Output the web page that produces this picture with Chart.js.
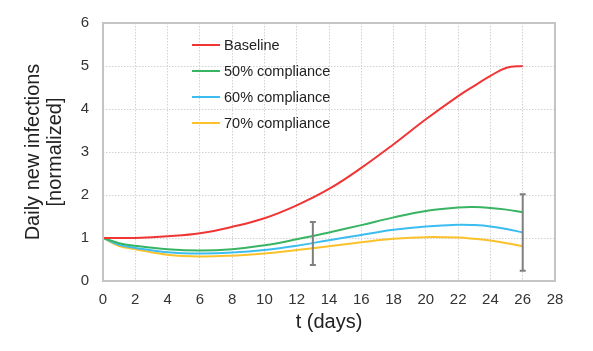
<!DOCTYPE html>
<html>
<head>
<meta charset="utf-8">
<script src="https://cdn.jsdelivr.net/npm/chart.js@4"></script>
<style>
  html, body { margin: 0; padding: 0; background: #fff; }
  #wrap { width: 593px; height: 351px; }
</style>
</head>
<body>
<div id="wrap"><canvas id="infChart" width="593" height="351"></canvas></div>
<script>
  // data
  const days = [0, 1, 2, 4, 6, 8, 10, 12, 14, 16, 18, 20, 22, 23, 24, 25, 26];
  const baseline = [1.0, 1.0, 1.0, 1.04, 1.11, 1.26, 1.46, 1.76, 2.14, 2.63, 3.18, 3.76, 4.3, 4.54, 4.77, 4.96, 5.0];
  const comp50 = [1.0, 0.88, 0.82, 0.74, 0.71, 0.74, 0.83, 0.97, 1.13, 1.30, 1.48, 1.63, 1.71, 1.72, 1.70, 1.66, 1.6];
  const comp60 = [1.0, 0.84, 0.77, 0.67, 0.64, 0.66, 0.72, 0.82, 0.95, 1.07, 1.19, 1.27, 1.31, 1.30, 1.27, 1.21, 1.13];
  const comp70 = [1.0, 0.81, 0.74, 0.61, 0.57, 0.59, 0.64, 0.72, 0.81, 0.90, 0.98, 1.02, 1.01, 0.98, 0.94, 0.88, 0.81];

  // error bars
  const errDays = [13, 26];
  const errLow = [0.37, 0.24];
  const errHigh = [1.37, 2.02];

  const font = '"Liberation Sans", Arial, sans-serif';
  const toPts = arr => days.map((d, i) => ({ x: d, y: arr[i] }));

  function series(label, arr, color) {
    return {
      label: label,
      data: toPts(arr),
      borderColor: color,
      backgroundColor: color,
      borderWidth: 2,
      pointRadius: 0,
      tension: 0.4,
      fill: false
    };
  }

  const extras = {
    id: 'extras',
    afterDatasetsDraw(chart) {
      const ctx = chart.ctx;
      const xs = chart.scales.x, ys = chart.scales.y;

      // error bars
      ctx.save();
      ctx.strokeStyle = '#7f7f7f';
      ctx.lineWidth = 2;
      errDays.forEach((d, i) => {
        const px = xs.getPixelForValue(d);
        const top = ys.getPixelForValue(errHigh[i]);
        const bot = ys.getPixelForValue(errLow[i]);
        ctx.beginPath();
        ctx.moveTo(px, top); ctx.lineTo(px, bot);
        ctx.moveTo(px - 3, top); ctx.lineTo(px + 3, top);
        ctx.moveTo(px - 3, bot); ctx.lineTo(px + 3, bot);
        ctx.stroke();
      });
      ctx.restore();

      // plot frame
      const a = chart.chartArea;
      ctx.save();
      ctx.strokeStyle = '#c4c4c4';
      ctx.lineWidth = 2;
      ctx.strokeRect(a.left, a.top, a.right - a.left, a.bottom - a.top);
      ctx.restore();

      // legend inside the plot
      ctx.save();
      ctx.font = '14.5px ' + font;
      ctx.textBaseline = 'middle';
      chart.data.datasets.forEach((ds, i) => {
        const y = 45 + i * 26;
        ctx.strokeStyle = ds.borderColor;
        ctx.lineWidth = 2;
        ctx.beginPath();
        ctx.moveTo(192, y); ctx.lineTo(220, y);
        ctx.stroke();
        ctx.fillStyle = '#222';
        ctx.fillText(ds.label, 224, y + 1);
      });
      ctx.restore();
    }
  };

  new Chart(document.getElementById('infChart'), {
    type: 'line',
    data: {
      datasets: [
        series('Baseline', baseline, '#f03535'),
        series('50% compliance', comp50, '#38b462'),
        series('60% compliance', comp60, '#3cbdf0'),
        series('70% compliance', comp70, '#fcc22c')
      ]
    },
    options: {
      responsive: false,
      animation: false,
      layout: { padding: { left: 0, top: 22, right: 38, bottom: 0 } },
      plugins: { legend: { display: false }, tooltip: { enabled: false } },
      scales: {
        x: {
          type: 'linear',
          min: 0, max: 28,
          afterFit: s => { s.height = 70; },
          ticks: { stepSize: 2, padding: 10, color: '#333', font: { family: font, size: 15 } },
          grid: { color: '#d2d2d2', lineWidth: 1, drawTicks: false },
          border: { display: false, dash: [1.5, 1.5] },
          title: {
            display: true, text: 't (days)', color: '#222',
            font: { family: font, size: 20, lineHeight: 1.1 },
            padding: { top: 0, bottom: 18 }
          }
        },
        y: {
          min: 0, max: 6,
          afterFit: s => { s.width = 103; },
          ticks: { stepSize: 1, padding: 14, color: '#333', font: { family: font, size: 15 } },
          grid: { color: '#d2d2d2', lineWidth: 1, drawTicks: false },
          border: { display: false, dash: [1.5, 1.5] },
          title: {
            display: true, text: ['Daily new infections', '[normalized]'], color: '#222',
            font: { family: font, size: 20, lineHeight: 1.1 },
            padding: { top: 22, bottom: 0 }
          }
        }
      }
    },
    plugins: [extras]
  });
</script>
</body>
</html>
